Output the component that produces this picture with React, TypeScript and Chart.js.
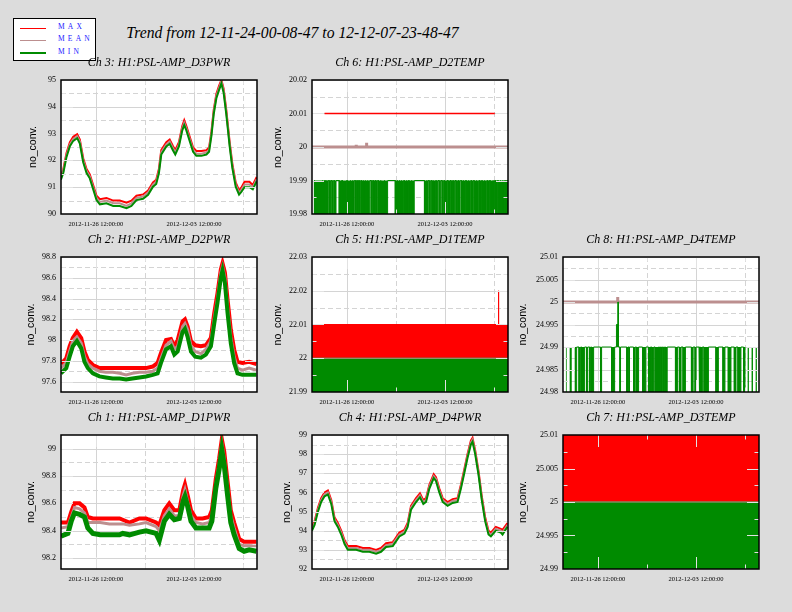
import { useEffect, useRef } from 'react';
import Chart from 'chart.js/auto';

const TITLE = 'Trend from 12-11-24-00-08-47 to 12-12-07-23-48-47';

// x values are days since 2012-11-24 00:00:00
const T_START = 0.006;
const T_END = 13.99;
const X_MAJOR = [2.5, 9.5];
const X_MINOR = [6, 13];
const X_LABELS = ['2012-11-26 12:00:00', '2012-12-03 12:00:00'];

// Ch 3: H1:PSL-AMP_D3PWR
const D3PWR_T = [0, 0.17, 0.4, 0.64, 0.88, 1.16, 1.35, 1.59, 1.83, 2.06, 2.3, 2.54, 2.78, 3.25, 3.73, 4.2, 4.68, 5.03, 5.39, 5.86, 6.22, 6.57, 6.8, 6.99, 7.16, 7.52, 7.76, 8.0, 8.16, 8.42, 8.66, 8.8, 8.95, 9.19, 9.43, 9.66, 10.02, 10.38, 10.57, 10.74, 10.9, 11.09, 11.28, 11.45, 11.61, 11.8, 12.04, 12.23, 12.47, 12.71, 12.87, 13.1, 13.45, 13.69, 13.97];
const D3PWR_MAX = [91.42, 91.67, 92.28, 92.68, 92.88, 92.98, 92.78, 92.08, 91.68, 91.48, 91.08, 90.68, 90.55, 90.6, 90.5, 90.5, 90.42, 90.5, 90.68, 90.73, 90.88, 91.18, 91.28, 91.68, 92.38, 92.68, 92.78, 92.53, 92.38, 92.68, 93.28, 93.5, 93.28, 92.88, 92.48, 92.35, 92.35, 92.38, 92.48, 93.08, 93.88, 94.48, 94.78, 95.0, 94.68, 93.88, 92.68, 91.88, 91.18, 90.88, 90.98, 91.2, 91.2, 91.08, 91.38];
const D3PWR_MEAN = [91.35, 91.6, 92.2, 92.6, 92.8, 92.9, 92.7, 92.0, 91.6, 91.4, 91.0, 90.6, 90.45, 90.5, 90.4, 90.4, 90.3, 90.4, 90.6, 90.65, 90.8, 91.1, 91.2, 91.6, 92.3, 92.6, 92.7, 92.45, 92.3, 92.6, 93.2, 93.4, 93.2, 92.8, 92.4, 92.25, 92.25, 92.3, 92.4, 93.0, 93.8, 94.4, 94.7, 94.95, 94.6, 93.8, 92.6, 91.8, 91.1, 90.8, 90.9, 91.1, 91.1, 91.0, 91.3];
const D3PWR_MIN = [91.28, 91.53, 92.13, 92.53, 92.73, 92.83, 92.63, 91.93, 91.53, 91.33, 90.93, 90.52, 90.36, 90.4, 90.3, 90.3, 90.22, 90.3, 90.52, 90.57, 90.72, 91.02, 91.12, 91.52, 92.22, 92.52, 92.62, 92.37, 92.22, 92.52, 93.12, 93.32, 93.12, 92.72, 92.32, 92.17, 92.17, 92.22, 92.32, 92.92, 93.72, 94.32, 94.62, 94.87, 94.52, 93.72, 92.52, 91.72, 91.02, 90.72, 90.82, 91.0, 91.0, 90.92, 91.22];

// Ch 2: H1:PSL-AMP_D2PWR
const D2PWR_T = [0, 0.38, 0.62, 0.85, 1.14, 1.45, 1.68, 1.92, 2.28, 2.75, 3.2, 3.7, 4.2, 4.65, 5.1, 5.6, 6.07, 6.55, 6.9, 7.14, 7.5, 7.85, 8.09, 8.33, 8.68, 8.85, 9.04, 9.28, 9.58, 9.99, 10.34, 10.7, 10.94, 11.17, 11.41, 11.53, 11.7, 11.89, 12.12, 12.36, 12.6, 12.95, 13.43, 13.95];
const D2PWR_MAX = [97.77, 97.825, 97.94, 98.02, 98.08, 98.02, 97.89, 97.81, 97.76, 97.73, 97.73, 97.73, 97.73, 97.73, 97.73, 97.73, 97.73, 97.745, 97.78, 97.875, 98.0, 98.01, 97.94, 98.0, 98.18, 98.2, 98.13, 97.99, 97.95, 97.94, 97.95, 98.02, 98.26, 98.45, 98.68, 98.74, 98.65, 98.39, 98.1, 97.91, 97.79, 97.78, 97.79, 97.77];
const D2PWR_MEAN = [97.73, 97.78, 97.89, 97.99, 98.03, 97.97, 97.84, 97.77, 97.73, 97.7, 97.69, 97.69, 97.68, 97.665, 97.68, 97.69, 97.69, 97.7, 97.73, 97.825, 97.95, 97.99, 97.91, 97.94, 98.13, 98.16, 98.1, 97.94, 97.89, 97.87, 97.91, 97.99, 98.21, 98.4, 98.65, 98.71, 98.6, 98.32, 98.03, 97.84, 97.73, 97.71, 97.73, 97.71];
const D2PWR_MIN = [97.68, 97.73, 97.84, 97.94, 97.99, 97.92, 97.79, 97.73, 97.68, 97.65, 97.64, 97.63, 97.63, 97.62, 97.63, 97.64, 97.65, 97.665, 97.68, 97.78, 97.91, 97.94, 97.86, 97.89, 98.08, 98.11, 98.03, 97.89, 97.84, 97.83, 97.86, 97.94, 98.16, 98.36, 98.6, 98.67, 98.55, 98.26, 97.97, 97.78, 97.68, 97.665, 97.665, 97.665];

// Ch 1: H1:PSL-AMP_D1PWR
const D1PWR_T = [0, 0.5, 0.74, 0.97, 1.33, 1.68, 1.92, 2.28, 2.8, 3.46, 4.18, 4.41, 4.89, 5.6, 6.07, 6.79, 7.02, 7.38, 7.73, 8.09, 8.45, 8.73, 8.85, 9.04, 9.28, 9.63, 10.11, 10.58, 10.77, 11.05, 11.29, 11.48, 11.65, 11.89, 12.12, 12.36, 12.72, 13.07, 13.43, 13.95];
const D1PWR_MAX = [98.46, 98.46, 98.54, 98.6, 98.6, 98.57, 98.5, 98.49, 98.49, 98.49, 98.49, 98.48, 98.46, 98.49, 98.49, 98.46, 98.44, 98.55, 98.6, 98.55, 98.55, 98.7, 98.74, 98.66, 98.55, 98.49, 98.49, 98.5, 98.55, 98.78, 98.93, 99.07, 98.98, 98.76, 98.55, 98.46, 98.34, 98.32, 98.32, 98.32];
const D1PWR_MEAN = [98.42, 98.43, 98.5, 98.57, 98.56, 98.53, 98.46, 98.46, 98.46, 98.45, 98.45, 98.45, 98.44, 98.45, 98.46, 98.43, 98.4, 98.51, 98.56, 98.51, 98.51, 98.66, 98.7, 98.61, 98.51, 98.46, 98.45, 98.46, 98.51, 98.74, 98.89, 99.04, 98.93, 98.71, 98.51, 98.42, 98.3, 98.29, 98.29, 98.29];
const D1PWR_MIN = [98.36, 98.38, 98.47, 98.53, 98.52, 98.5, 98.42, 98.38, 98.37, 98.37, 98.37, 98.38, 98.37, 98.39, 98.4, 98.38, 98.33, 98.47, 98.52, 98.48, 98.49, 98.62, 98.65, 98.58, 98.47, 98.42, 98.42, 98.42, 98.47, 98.71, 98.85, 98.99, 98.88, 98.66, 98.46, 98.37, 98.27, 98.25, 98.26, 98.25];

// Ch 4: H1:PSL-AMP_D4PWR
const D4PWR_T = [0, 0.19, 0.43, 0.66, 0.9, 1.14, 1.38, 1.61, 1.85, 2.09, 2.33, 2.56, 2.8, 3.16, 3.63, 4.1, 4.58, 4.93, 5.29, 5.77, 6.24, 6.6, 6.83, 7.07, 7.43, 7.71, 7.95, 8.14, 8.38, 8.69, 8.85, 9.09, 9.33, 9.68, 10.04, 10.39, 10.63, 10.87, 11.1, 11.34, 11.46, 11.65, 11.89, 12.12, 12.36, 12.6, 12.77, 13.12, 13.48, 13.6, 13.95];
const D4PWR_MAX = [94.2, 94.5, 95.2, 95.7, 96.0, 96.1, 95.6, 94.7, 94.4, 94.0, 93.5, 93.2, 93.2, 93.2, 93.1, 93.1, 93.0, 93.1, 93.35, 93.4, 93.9, 94.05, 94.4, 95.3, 95.7, 95.95, 95.6, 95.7, 96.4, 96.95, 96.8, 96.2, 95.7, 95.5, 95.65, 95.7, 96.4, 97.2, 98.0, 98.7, 98.85, 98.2, 97.1, 95.8, 94.7, 94.0, 93.9, 94.2, 94.1, 94.05, 94.4];
const D4PWR_MEAN = [94.1, 94.4, 95.1, 95.6, 95.9, 96.0, 95.5, 94.6, 94.3, 93.9, 93.4, 93.1, 93.1, 93.1, 93.0, 93.0, 92.9, 93.0, 93.25, 93.3, 93.8, 93.95, 94.3, 95.2, 95.6, 95.85, 95.5, 95.6, 96.3, 96.85, 96.7, 96.1, 95.6, 95.4, 95.55, 95.6, 96.3, 97.1, 97.9, 98.6, 98.75, 98.1, 97.0, 95.7, 94.6, 93.9, 93.8, 94.1, 94.0, 93.9, 94.3];
const D4PWR_MIN = [94.0, 94.3, 95.0, 95.5, 95.8, 95.9, 95.4, 94.5, 94.2, 93.8, 93.3, 93.0, 93.0, 93.0, 92.9, 92.9, 92.8, 92.9, 93.15, 93.2, 93.7, 93.85, 94.2, 95.1, 95.5, 95.75, 95.4, 95.5, 96.2, 96.75, 96.6, 96.0, 95.5, 95.3, 95.45, 95.5, 96.2, 97.0, 97.8, 98.5, 98.65, 98.0, 96.9, 95.6, 94.5, 93.8, 93.7, 94.0, 93.9, 93.8, 94.2];

// Ch 6: H1:PSL-AMP_D2TEMP
const D2TEMP_MAX_T = [0.9, 13.05];
const D2TEMP_MAX = [20.01, 20.01];
const D2TEMP_MEAN_T = [0.006, 3.15, 3.15, 3.17, 3.17, 3.87, 3.87, 3.92, 3.92, 13.99];
const D2TEMP_MEAN = [20, 20, 20.0007, 20.0007, 20, 20, 20.0013, 20.0013, 20, 20];
const D2TEMP_MIN_LEVEL = 19.99;
const D2TEMP_MIN_DROP = 19.98;
// [from, to] day spans where the minimum keeps falling to the bottom of the axis
const D2TEMP_MIN_DROPS = [
  [0.18, 0.72], [0.79, 0.9], [0.95, 1.04], [1.07, 1.16], [1.24, 1.33], [1.43, 1.53], [1.61, 1.72], [1.95, 2.11],
  [2.18, 2.48], [2.52, 2.72], [2.77, 2.87], [2.93, 3.02], [3.1, 3.2], [3.23, 3.32], [3.38, 3.48], [3.55, 3.65],
  [3.71, 3.8], [3.84, 3.94], [4.0, 4.13], [4.23, 4.32], [4.4, 4.5], [4.56, 4.67], [4.75, 4.89], [4.92, 5.16],
  [5.19, 5.4], [5.95, 6.08], [6.12, 6.22], [6.27, 6.37], [6.41, 6.54], [6.6, 6.73], [6.77, 6.88], [6.93, 7.09],
  [7.13, 7.3], [8.03, 8.18], [8.2, 8.29], [8.37, 8.48], [8.56, 8.67], [8.7, 8.83], [8.87, 8.99], [9.08, 9.19],
  [9.29, 9.4], [9.46, 9.64], [9.71, 9.85], [9.92, 10.06], [10.08, 10.2], [10.28, 10.42], [10.47, 10.58], [10.68, 10.8],
  [10.82, 10.95], [11.01, 11.14], [11.2, 11.33], [11.39, 11.51], [11.58, 11.71], [11.77, 11.91], [11.97, 12.11], [12.15, 12.29],
  [12.34, 12.48], [12.54, 12.66], [12.72, 12.92], [12.93, 13.03], [13.11, 13.23], [13.29, 13.42], [13.47, 13.6], [13.63, 13.77],
  [13.79, 13.91], [13.93, 13.99],
];

// Ch 5: H1:PSL-AMP_D1TEMP
const D1TEMP_MAX_T = [0.006, 13.3, 13.3, 13.33, 13.33, 13.99];
const D1TEMP_MAX = [22.01, 22.01, 22.02, 22.02, 22.01, 22.01];
const D1TEMP_MEAN_T = [0.006, 13.99];
const D1TEMP_MEAN = [22, 22];
const D1TEMP_MIN_T = [0.006, 13.99];
const D1TEMP_MIN = [22, 22];

// Ch 8: H1:PSL-AMP_D4TEMP
const D4TEMP_MEAN_T = [0.006, 3.89, 3.89, 3.92, 3.92, 13.99];
const D4TEMP_MEAN = [25, 25, 25.0011, 25.0011, 25, 25];
const D4TEMP_MIN_LEVEL = 24.99;
const D4TEMP_MIN_DROP = 24.98;
const D4TEMP_MIN_DROPS = [
  [0.2, 0.27], [0.48, 0.63], [0.84, 0.98], [1.15, 1.27], [1.34, 1.55], [1.69, 1.77], [1.91, 1.98], [2.05, 2.19],
  [2.69, 2.76], [3.47, 3.69], [4.07, 4.11], [4.56, 4.64], [4.71, 4.75], [5.04, 5.16], [5.25, 5.4], [5.68, 5.92],
  [6.11, 6.25], [6.34, 6.49], [6.58, 6.82], [6.89, 6.96], [7.03, 7.1], [7.17, 7.25], [7.32, 7.44], [8.03, 8.17],
  [8.31, 8.43], [8.57, 8.74], [9.17, 9.29], [9.43, 9.5], [9.71, 9.76], [9.81, 9.95], [10.07, 10.38], [10.92, 11.09],
  [11.42, 11.56], [11.8, 11.99], [12.23, 12.35], [12.49, 12.7], [12.89, 12.99], [13.18, 13.27], [13.46, 13.56], [13.75, 13.84],
];
// [from, to, value] short rises of the minimum
const D4TEMP_MIN_RISES = [[3.82, 3.92, 24.995], [3.92, 3.96, 25.0]];
const D4TEMP_MIN_LINE = [0.9, 13.0];

// Ch 7: H1:PSL-AMP_D3TEMP
const D3TEMP_MAX_T = [0.006, 13.99];
const D3TEMP_MAX = [25.01, 25.01];
const D3TEMP_MEAN_T = [0.006, 13.99];
const D3TEMP_MEAN = [25, 25];
const D3TEMP_MIN_T = [0.006, 13.99];
const D3TEMP_MIN = [25, 25];

const RED = '#ff0000';
const ROSY = '#bc8f8f';
const GREEN = '#008b00';
const GRID = '#d4d4d4';
const TICK = '#e2e2e2';

const PLOT_W = 196;
const Y_AXIS_W = 56;
const TITLE_H = 28;
const X_AXIS_H = 18;
const PAD_R = 6;

const pts = (t: number[], v: number[]) => t.map((x, i) => ({ x, y: v[i] }));

function stepSeries(level: number, drop: number, drops: number[][], rises: number[][] = []) {
  const events = [...drops.map(([a, b]) => [a, b, drop]), ...rises].sort((p, q) => p[0] - q[0]);
  const out: { x: number; y: number }[] = [];
  for (const [a, b, v] of events) {
    out.push({ x: a, y: level }, { x: a, y: v }, { x: b, y: v }, { x: b, y: level });
  }
  out.push({ x: T_END, y: level });
  return out;
}

function line(data: { x: number; y: number }[], color: string, width: number, order: number, extra: object = {}) {
  return {
    data,
    borderColor: color,
    backgroundColor: color,
    borderWidth: width,
    pointRadius: 0,
    fill: false,
    order,
    clip: 0,
    ...extra,
  };
}

interface PanelDef {
  title: string;
  left: number;
  top: number;
  height: number;
  yMin: number;
  yMax: number;
  yTicks: number[];
  yTitleGap: number;
  datasets: object[];
}

const COLS = [61, 312, 563];
const ROWS = [80, 257, 435];
const ROW_H = [134, 135, 134];

const PANELS: PanelDef[] = [
  {
    title: 'Ch 3: H1:PSL-AMP_D3PWR', left: COLS[0], top: ROWS[0], height: ROW_H[0],
    yMin: 90, yMax: 95, yTicks: [90, 91, 92, 93, 94, 95], yTitleGap: 28,
    datasets: [
      line(pts(D3PWR_T, D3PWR_MAX), RED, 2, 3),
      line(pts(D3PWR_T, D3PWR_MEAN), ROSY, 2, 2),
      line(pts(D3PWR_T, D3PWR_MIN), GREEN, 2, 1),
    ],
  },
  {
    title: 'Ch 6: H1:PSL-AMP_D2TEMP', left: COLS[1], top: ROWS[0], height: ROW_H[0],
    yMin: 19.98, yMax: 20.02, yTicks: [19.98, 19.99, 20, 20.01, 20.02], yTitleGap: 34,
    datasets: [
      line(pts(D2TEMP_MAX_T, D2TEMP_MAX), RED, 1.5, 3),
      line(pts(D2TEMP_MEAN_T, D2TEMP_MEAN), ROSY, 3, 2, { borderJoinStyle: 'miter' }),
      line(stepSeries(D2TEMP_MIN_LEVEL, D2TEMP_MIN_DROP, D2TEMP_MIN_DROPS), GREEN, 1, 1, {
        fill: { target: { value: D2TEMP_MIN_LEVEL } },
      }),
    ],
  },
  {
    title: 'Ch 2: H1:PSL-AMP_D2PWR', left: COLS[0], top: ROWS[1], height: ROW_H[1],
    yMin: 97.5, yMax: 98.8, yTicks: [97.6, 97.8, 98, 98.2, 98.4, 98.6, 98.8], yTitleGap: 30,
    datasets: [
      line(pts(D2PWR_T, D2PWR_MAX), RED, 4, 3),
      line(pts(D2PWR_T, D2PWR_MEAN), ROSY, 3, 2),
      line(pts(D2PWR_T, D2PWR_MIN), GREEN, 4, 1),
    ],
  },
  {
    title: 'Ch 5: H1:PSL-AMP_D1TEMP', left: COLS[1], top: ROWS[1], height: ROW_H[1],
    yMin: 21.99, yMax: 22.03, yTicks: [21.99, 22, 22.01, 22.02, 22.03], yTitleGap: 34,
    datasets: [
      line(pts(D1TEMP_MAX_T, D1TEMP_MAX), RED, 1, 3, { fill: { target: { value: 22 } } }),
      line(pts(D1TEMP_MIN_T, D1TEMP_MIN), GREEN, 1, 2, { fill: 'start' }),
      line(pts(D1TEMP_MEAN_T, D1TEMP_MEAN), ROSY, 1, 1),
    ],
  },
  {
    title: 'Ch 8: H1:PSL-AMP_D4TEMP', left: COLS[2], top: ROWS[1], height: ROW_H[1],
    yMin: 24.98, yMax: 25.01, yTicks: [24.98, 24.985, 24.99, 24.995, 25, 25.005, 25.01], yTitleGap: 40,
    datasets: [
      line(pts(D4TEMP_MEAN_T, D4TEMP_MEAN), ROSY, 3, 2, { borderJoinStyle: 'miter' }),
      line(stepSeries(D4TEMP_MIN_LEVEL, D4TEMP_MIN_DROP, D4TEMP_MIN_DROPS, D4TEMP_MIN_RISES), GREEN, 1, 1, {
        fill: { target: { value: D4TEMP_MIN_LEVEL } },
        segment: {
          borderColor: (c: any) =>
            c.p0.parsed.x < D4TEMP_MIN_LINE[0] || c.p1.parsed.x > D4TEMP_MIN_LINE[1] ? 'rgba(0,0,0,0)' : undefined,
        },
      }),
    ],
  },
  {
    title: 'Ch 1: H1:PSL-AMP_D1PWR', left: COLS[0], top: ROWS[2], height: ROW_H[2],
    yMin: 98.12, yMax: 99.1, yTicks: [98.2, 98.4, 98.6, 98.8, 99], yTitleGap: 30,
    datasets: [
      line(pts(D1PWR_T, D1PWR_MAX), RED, 4, 3),
      line(pts(D1PWR_T, D1PWR_MEAN), ROSY, 3, 2),
      line(pts(D1PWR_T, D1PWR_MIN), GREEN, 5, 1),
    ],
  },
  {
    title: 'Ch 4: H1:PSL-AMP_D4PWR', left: COLS[1], top: ROWS[2], height: ROW_H[2],
    yMin: 92, yMax: 99, yTicks: [92, 93, 94, 95, 96, 97, 98, 99], yTitleGap: 25,
    datasets: [
      line(pts(D4PWR_T, D4PWR_MAX), RED, 2, 3),
      line(pts(D4PWR_T, D4PWR_MEAN), ROSY, 2, 2),
      line(pts(D4PWR_T, D4PWR_MIN), GREEN, 2, 1),
    ],
  },
  {
    title: 'Ch 7: H1:PSL-AMP_D3TEMP', left: COLS[2], top: ROWS[2], height: ROW_H[2],
    yMin: 24.99, yMax: 25.01, yTicks: [24.99, 24.995, 25, 25.005, 25.01], yTitleGap: 40,
    datasets: [
      line(pts(D3TEMP_MAX_T, D3TEMP_MAX), RED, 1, 3, { fill: { target: { value: 25 } } }),
      line(pts(D3TEMP_MIN_T, D3TEMP_MIN), GREEN, 1, 2, { fill: 'start' }),
      line(pts(D3TEMP_MEAN_T, D3TEMP_MEAN), ROSY, 1, 1),
    ],
  },
];

// white plot area, solid grid on major ticks and dashed halfway between;
// inner tick marks and a black frame drawn over the data
const panelFrame = {
  id: 'panelFrame',
  beforeDatasetsDraw(chart: any, _args: unknown, opts: any) {
    const { ctx, chartArea: a } = chart;
    const xs = chart.scales.x;
    const ys = chart.scales.y;
    ctx.save();
    ctx.fillStyle = '#fff';
    ctx.fillRect(a.left, a.top, a.right - a.left, a.bottom - a.top);
    ctx.beginPath();
    ctx.rect(a.left, a.top, a.right - a.left, a.bottom - a.top);
    ctx.clip();
    ctx.strokeStyle = GRID;
    ctx.lineWidth = 1;
    const h = (v: number, dash: number[]) => {
      const p = Math.round(ys.getPixelForValue(v)) + 0.5;
      ctx.setLineDash(dash);
      ctx.beginPath();
      ctx.moveTo(a.left, p);
      ctx.lineTo(a.right, p);
      ctx.stroke();
    };
    const v = (t: number, dash: number[]) => {
      const p = Math.round(xs.getPixelForValue(t)) + 0.5;
      ctx.setLineDash(dash);
      ctx.beginPath();
      ctx.moveTo(p, a.top);
      ctx.lineTo(p, a.bottom);
      ctx.stroke();
    };
    opts.yMajor.forEach((t: number) => h(t, []));
    opts.yMinor.forEach((t: number) => h(t, [5, 3]));
    X_MAJOR.forEach((t) => v(t, []));
    X_MINOR.forEach((t) => v(t, [5, 3]));
    ctx.restore();
  },
  afterDatasetsDraw(chart: any, _args: unknown, opts: any) {
    const { ctx, chartArea: a } = chart;
    const xs = chart.scales.x;
    const ys = chart.scales.y;
    ctx.save();
    ctx.strokeStyle = TICK;
    ctx.lineWidth = 1;
    const seg = (x1: number, y1: number, x2: number, y2: number) => {
      ctx.beginPath();
      ctx.moveTo(x1, y1);
      ctx.lineTo(x2, y2);
      ctx.stroke();
    };
    const yt = (t: number, len: number) => {
      if (t <= opts.yMin + 1e-9 || t >= opts.yMax - 1e-9) return;
      const p = Math.round(ys.getPixelForValue(t)) + 0.5;
      seg(a.left, p, a.left + len, p);
      seg(a.right, p, a.right - len, p);
    };
    const xt = (t: number, len: number) => {
      const p = Math.round(xs.getPixelForValue(t)) + 0.5;
      seg(p, a.top, p, a.top + len);
      seg(p, a.bottom, p, a.bottom - len);
    };
    opts.yMajor.forEach((t: number) => yt(t, 12));
    opts.yMinor.forEach((t: number) => yt(t, 4.5));
    X_MAJOR.forEach((t) => xt(t, 12));
    X_MINOR.forEach((t) => xt(t, 4.5));
    ctx.strokeStyle = '#000';
    ctx.lineWidth = 1.5;
    ctx.strokeRect(a.left, a.top, a.right - a.left, a.bottom - a.top);
    ctx.restore();
  },
};

const fmt = (v: number) => String(Number(v.toFixed(4)));

function minorTicks(def: PanelDef) {
  const step = def.yTicks[1] - def.yTicks[0];
  const out: number[] = [];
  for (let t = def.yTicks[0] - step / 2; t < def.yMax + step; t += step) {
    if (t > def.yMin + 1e-9 && t < def.yMax - 1e-9) out.push(t);
  }
  return out;
}

function Panel({ def }: { def: PanelDef }) {
  const canvasRef = useRef<HTMLCanvasElement | null>(null);
  const w = Y_AXIS_W + PLOT_W + PAD_R;
  const h = TITLE_H + def.height + X_AXIS_H;

  useEffect(() => {
    if (!canvasRef.current) return undefined;
    const chart = new Chart(canvasRef.current, {
      type: 'line',
      data: { datasets: def.datasets as any },
      plugins: [panelFrame],
      options: {
        responsive: false,
        animation: false,
        events: [],
        layout: { padding: { left: 0, right: PAD_R, top: 0, bottom: 0 } },
        plugins: {
          legend: { display: false },
          tooltip: { enabled: false },
          title: {
            display: true,
            text: def.title,
            fullSize: false,
            color: '#000',
            font: { family: 'Liberation Serif', size: 12, style: 'italic', weight: 'normal' },
            padding: { top: 4, bottom: TITLE_H - 4 - 14.4 },
          },
          panelFrame: { yMajor: def.yTicks, yMinor: minorTicks(def), yMin: def.yMin, yMax: def.yMax },
        } as any,
        scales: {
          x: {
            type: 'linear',
            min: T_START,
            max: T_END,
            grid: { display: false, drawTicks: false },
            border: { display: false },
            ticks: {
              autoSkip: false,
              maxRotation: 0,
              minRotation: 0,
              padding: 6,
              color: '#000',
              font: { family: 'Liberation Serif', size: 6.5 },
              callback: (value: any) => {
                const i = X_MAJOR.indexOf(Number(value));
                return i >= 0 ? X_LABELS[i] : '';
              },
            },
            afterBuildTicks: (s: any) => {
              s.ticks = [...X_MAJOR, ...X_MINOR].sort((p, q) => p - q).map((value) => ({ value }));
            },
            afterFit: (s: any) => {
              s.height = X_AXIS_H;
            },
          },
          y: {
            type: 'linear',
            min: def.yMin,
            max: def.yMax,
            grid: { display: false, drawTicks: false },
            border: { display: false },
            ticks: {
              autoSkip: false,
              padding: 5,
              color: '#000',
              font: { family: 'Liberation Serif', size: 8 },
              callback: (value: any) => fmt(Number(value)),
            },
            afterBuildTicks: (s: any) => {
              s.ticks = def.yTicks.map((value) => ({ value }));
            },
            afterFit: (s: any) => {
              s.width = Y_AXIS_W;
            },
            title: {
              display: true,
              text: 'no_conv.',
              color: '#000',
              font: { family: 'Liberation Sans', size: 10.5 },
              padding: { top: Y_AXIS_W - def.yTitleGap - 6.3, bottom: 0 },
            },
          },
        },
      },
    });
    return () => {
      chart.destroy();
    };
  }, [def]);

  return (
    <canvas
      ref={canvasRef}
      width={w}
      height={h}
      style={{ position: 'absolute', left: def.left - Y_AXIS_W, top: def.top - TITLE_H, width: w, height: h }}
    />
  );
}

const LEGEND = [
  { label: 'MAX', color: RED },
  { label: 'MEAN', color: ROSY },
  { label: 'MIN', color: GREEN },
];

export default function App() {
  return (
    <div
      style={{
        position: 'absolute',
        left: 0,
        top: 0,
        width: 792,
        height: 612,
        background: '#dcdcdc',
        overflow: 'hidden',
      }}
    >
      <div
        style={{
          position: 'absolute',
          left: 0,
          top: 23,
          width: 585,
          textAlign: 'center',
          font: 'italic 15.7px "Liberation Serif"',
          lineHeight: '20px',
          color: '#000',
          whiteSpace: 'nowrap',
        }}
      >
        {TITLE}
      </div>
      <div
        style={{
          position: 'absolute',
          left: 13,
          top: 18,
          width: 81,
          height: 41,
          background: '#fff',
          border: '1px solid #000',
        }}
      >
        {LEGEND.map((item, i) => (
          <div key={item.label} style={{ position: 'absolute', left: 0, top: 3 + i * 12.3, height: 12, width: 81 }}>
            <div style={{ position: 'absolute', left: 6, top: 5.5, width: 26, height: 1.5, background: item.color }} />
            <div
              style={{
                position: 'absolute',
                left: 44,
                top: 0,
                lineHeight: '12px',
                font: '7.5px "Liberation Serif"',
                letterSpacing: 3.2,
                color: '#2222ff',
              }}
            >
              {item.label}
            </div>
          </div>
        ))}
      </div>
      {PANELS.map((def) => (
        <Panel key={def.title} def={def} />
      ))}
    </div>
  );
}
